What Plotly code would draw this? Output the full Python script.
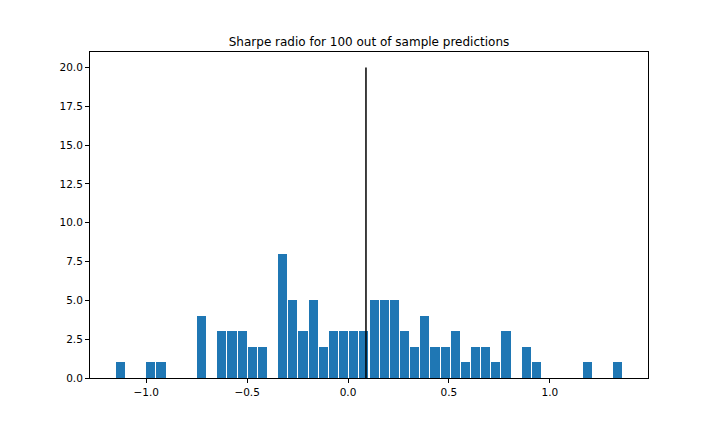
import plotly.graph_objects as go
import numpy as np

# histogram counts (50 bins)
counts = [1, 0, 0, 1, 1, 0, 0, 0, 4, 0,
          3, 3, 3, 2, 2, 0, 8, 5, 3, 5,
          2, 3, 3, 3, 3, 5, 5, 5, 3, 2,
          4, 2, 2, 3, 1, 2, 2, 1, 3, 0,
          2, 1, 0, 0, 0, 0, 1, 0, 0, 1]
bin_min = -1.153
bin_max = 1.361
mean_sharpe = 0.089
line_top = 20

edges = np.linspace(bin_min, bin_max, len(counts) + 1)
centers = (edges[:-1] + edges[1:]) / 2
width = edges[1] - edges[0]

fig = go.Figure()
fig.add_trace(go.Bar(x=centers, y=counts, width=width * 0.9,
                     marker=dict(color='#1f77b4', line=dict(width=0))))
fig.add_trace(go.Scatter(x=[mean_sharpe, mean_sharpe], y=[0, line_top], mode='lines',
                         line=dict(color='black', width=1.5)))

pad = (bin_max - bin_min) * 0.05
axis_style = dict(showgrid=False, zeroline=False, showline=True, linecolor='black',
                  linewidth=1, mirror=True, ticks='outside', ticklen=4,
                  tickcolor='black', tickfont=dict(size=10.5, color='black'))

# page body adds an 8px offset, so the figure is a bit smaller than the window
fig.update_layout(
    width=712, height=424,
    margin=dict(l=82, r=72, t=44, b=54),
    paper_bgcolor='white', plot_bgcolor='white',
    font=dict(family='DejaVu Sans', color='black'),
    showlegend=False,
    bargap=0,
    title=dict(text='Sharpe radio for 100 out of sample predictions',
               x=0.5, xref='paper', y=1, yref='paper', yanchor='bottom',
               pad=dict(b=6), font=dict(size=12, color='black')),
    xaxis=dict(range=[bin_min - pad, bin_max + pad], tickvals=[-1.0, -0.5, 0.0, 0.5, 1.0],
               ticktext=['\u22121.0', '\u22120.5', '0.0', '0.5', '1.0'], **axis_style),
    yaxis=dict(range=[0, 21], tickvals=[0, 2.5, 5, 7.5, 10, 12.5, 15, 17.5, 20],
               ticktext=['0.0', '2.5', '5.0', '7.5', '10.0', '12.5', '15.0', '17.5', '20.0'],
               **axis_style),
)

fig.write_html("out.html")
